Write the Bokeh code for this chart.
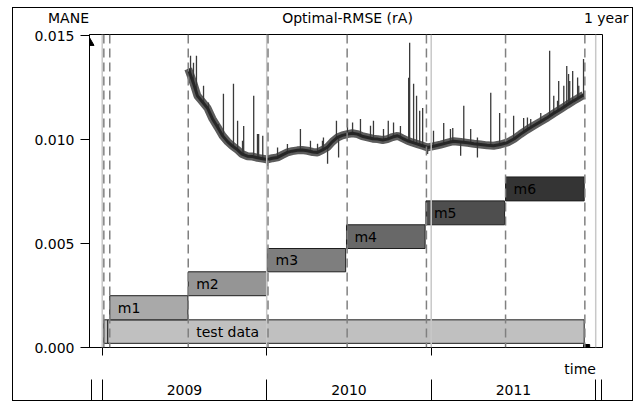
import numpy as np
from bokeh.plotting import figure
from bokeh.layouts import column
from bokeh.models import (Range1d, FixedTicker, LinearAxis, Span, NumeralTickFormatter)
from bokeh.core.properties import value
from bokeh.embed import file_html
from bokeh.resources import INLINE

FONT = "DejaVu Sans"
FS = "14px"

# ---------------- data ----------------
models = ["m1", "m2", "m3", "m4", "m5", "m6"]
model_start = [2009.046, 2009.523, 2010.005, 2010.485, 2010.968, 2011.452]
model_end = [2009.521, 2010.000, 2010.480, 2010.963, 2011.446, 2011.930]
model_bottom = [0.00133, 0.00249, 0.00364, 0.00476, 0.00590, 0.00705]
model_top = [0.00249, 0.00364, 0.00476, 0.00590, 0.00705, 0.00820]
model_colors = ["#a9a9a9", "#959595", "#7e7e7e", "#686868", "#4e4e4e", "#343434"]

test_label = "test data"
test_start = [2009.010, 2009.034]
test_end = [2009.034, 2011.930]
test_bottom = [0.0002, 0.0002]
test_top = [0.00133, 0.00133]

window_bounds = [2009.010, 2009.046, 2009.523, 2010.008, 2010.489, 2010.971,
                 2011.452, 2011.934]
year_bounds = [2009.0, 2010.0, 2011.0, 2012.0]
year_centers = [2009.5, 2010.5, 2011.5]
year_labels = ["2009", "2010", "2011"]
band_edges = [2008.933, 2009.0, 2010.0, 2011.0, 2012.0, 2012.038]
y_ticks = [0.0, 0.005, 0.010, 0.015]
header_texts = ["MANE", "Optimal-RMSE (rA)", "1 year"]

rmse_t = [2009.523, 2009.537, 2009.555, 2009.579, 2009.600, 2009.641, 2009.670,
          2009.701, 2009.730, 2009.762, 2009.790, 2009.823, 2009.850, 2009.883,
          2009.915, 2009.944, 2009.975, 2010.005, 2010.035, 2010.066, 2010.095,
          2010.126, 2010.155, 2010.187, 2010.215, 2010.248, 2010.280, 2010.309,
          2010.340, 2010.370, 2010.400, 2010.430, 2010.460, 2010.491, 2010.520,
          2010.552, 2010.580, 2010.613, 2010.645, 2010.674, 2010.705, 2010.734,
          2010.765, 2010.795, 2010.825, 2010.856, 2010.885, 2010.917, 2010.948,
          2010.978, 2011.015, 2011.057, 2011.095, 2011.136, 2011.180, 2011.221,
          2011.260, 2011.300, 2011.340, 2011.379, 2011.420, 2011.464, 2011.505,
          2011.543, 2011.580, 2011.622, 2011.665, 2011.707, 2011.745, 2011.786,
          2011.825, 2011.865, 2011.895, 2011.926]
rmse_v = [0.01340, 0.01310, 0.01270, 0.01210, 0.01190, 0.01150, 0.01100,
          0.01060, 0.01020, 0.00990, 0.00970, 0.00950, 0.00930, 0.00920,
          0.00918, 0.00912, 0.00908, 0.00904, 0.00910, 0.00914, 0.00926,
          0.00938, 0.00944, 0.00948, 0.00950, 0.00946, 0.00940, 0.00938,
          0.00950, 0.00964, 0.00990, 0.01010, 0.01020, 0.01026, 0.01030,
          0.01026, 0.01016, 0.01010, 0.01004, 0.01002, 0.00998, 0.01002,
          0.01012, 0.01018, 0.01006, 0.00994, 0.00986, 0.00978, 0.00970,
          0.00962, 0.00968, 0.00976, 0.00984, 0.00992, 0.00988, 0.00984,
          0.00980, 0.00976, 0.00972, 0.00970, 0.00976, 0.00986, 0.01004,
          0.01026, 0.01046, 0.01066, 0.01086, 0.01106, 0.01126, 0.01146,
          0.01166, 0.01186, 0.01200, 0.01214]

# upward spikes (time, peak value)
spike_t = [2009.537, 2009.555, 2009.573, 2009.616, 2009.646, 2009.707, 2009.737,
           2009.798, 2009.823, 2009.853, 2009.860, 2009.921, 2009.944, 2009.951,
           2009.976, 2010.066, 2010.126, 2010.205, 2010.266, 2010.309, 2010.339,
           2010.345, 2010.424, 2010.491, 2010.522, 2010.570, 2010.631, 2010.649,
           2010.710, 2010.739, 2010.771, 2010.813, 2010.863, 2010.869, 2010.893,
           2010.911, 2010.930, 2010.948, 2011.014, 2011.076, 2011.117, 2011.131,
           2011.198, 2011.240, 2011.281, 2011.362, 2011.416, 2011.501, 2011.562,
           2011.585, 2011.605, 2011.666, 2011.720, 2011.745, 2011.768, 2011.775,
           2011.806, 2011.824, 2011.835, 2011.842, 2011.860, 2011.878, 2011.890,
           2011.897, 2011.926]
spike_v = [0.01403, 0.01369, 0.01403, 0.01258, 0.01178, 0.01075, 0.01220,
           0.01268, 0.01090, 0.00994, 0.01065, 0.01210, 0.01027, 0.01027,
           0.01018, 0.00962, 0.00978, 0.01051, 0.00994, 0.00980, 0.00994,
           0.01010, 0.01090, 0.01099, 0.01082, 0.01099, 0.01066, 0.01090,
           0.01051, 0.01090, 0.01082, 0.01065, 0.01297, 0.01465, 0.01268,
           0.01210, 0.01138, 0.01152, 0.01042, 0.01080, 0.01051, 0.01056,
           0.01162, 0.01051, 0.01010, 0.01225, 0.01128, 0.01114, 0.01104,
           0.01106, 0.01099, 0.01128, 0.01427, 0.01210, 0.01186, 0.01282,
           0.01258, 0.01354, 0.01315, 0.01282, 0.01330, 0.01186, 0.01298,
           0.01258, 0.01387]

# downward spikes (time, low value)
dip_t = [2010.005, 2010.370, 2010.437, 2010.978, 2011.179, 2011.281]
dip_v = [0.00873, 0.00883, 0.00914, 0.00930, 0.00922, 0.00914]

W = 621

# ---------------- header strip ----------------
h = figure(width=W, height=19, output_backend="svg", toolbar_location=None,
           x_range=Range1d(0, W), y_range=Range1d(19, 0),
           x_axis_location=None, y_axis_location=None,
           min_border_left=0, min_border_right=0, min_border_top=0,
           min_border_bottom=0)
h.frame_align = False
h.grid.grid_line_color = None
h.outline_line_color = None
h.background_fill_alpha = 0
h.border_fill_alpha = 0
h.text(x=[56, 335, 616], y=[10, 10, 10], text=header_texts,
       text_align=["center", "center", "right"], text_baseline="middle",
       text_font=value(FONT), text_font_size=FS, text_color="black")

# ---------------- main plot ----------------
p = figure(width=W, height=375, output_backend="svg", toolbar_location=None,
           x_range=Range1d(2008.9228, 2012.0413), y_range=Range1d(0.0, 0.01505),
           x_axis_location=None,
           min_border_left=77, min_border_right=31, min_border_top=8,
           min_border_bottom=54)
p.frame_align = False
p.grid.grid_line_color = None
p.outline_line_color = "black"
p.outline_line_width = 1
p.background_fill_color = "white"
p.border_fill_alpha = 0

ya = p.yaxis[0]
ya.ticker = FixedTicker(ticks=y_ticks)
ya.formatter = NumeralTickFormatter(format="0.000")
ya.major_tick_out = 9
ya.major_tick_in = 0
ya.minor_tick_line_color = None
ya.axis_line_color = "black"
ya.major_tick_line_color = "black"
ya.major_label_standoff = 6
ya.major_label_text_font = FONT
ya.major_label_text_font_size = FS
ya.major_label_text_color = "black"

# main time axis: ticks at year starts, "time" label
xa = LinearAxis(ticker=FixedTicker(ticks=[2011.905], minor_ticks=year_bounds[:3]),
                major_tick_out=0, major_tick_in=0, major_tick_line_color=None,
                minor_tick_out=8, minor_tick_in=0, minor_tick_line_color="black",
                axis_line_color="black",
                major_label_overrides={2011.905: "time"},
                major_label_standoff=5,
                major_label_text_font=FONT, major_label_text_font_size=FS,
                major_label_text_color="black")
p.add_layout(xa, "below")

# year band axis
yb = LinearAxis(ticker=FixedTicker(ticks=year_centers, minor_ticks=band_edges),
                major_tick_out=0, major_tick_in=0, major_tick_line_color=None,
                minor_tick_out=22, minor_tick_in=0, minor_tick_line_color="black",
                minor_tick_line_width=1,
                axis_line_color=None,
                major_label_overrides={c: l for c, l in zip(year_centers, year_labels)},
                major_label_standoff=-17,
                major_label_text_font=FONT, major_label_text_font_size=FS,
                major_label_text_color="black")
p.add_layout(yb, "below")

# bars
p.quad(left=test_start, right=test_end, bottom=test_bottom, top=test_top,
       fill_color="#c0c0c0", line_color="#1e1e1e", line_width=1)
p.quad(left=model_start, right=model_end, bottom=model_bottom, top=model_top,
       fill_color=model_colors, line_color="#1e1e1e", line_width=1)

mid = [(b + t) / 2 for b, t in zip(model_bottom, model_top)]
p.text(x=model_start, y=mid, text=models, x_offset=8, text_baseline="middle",
       text_font=value(FONT), text_font_size=FS, text_color="black")
p.text(x=[model_start[1]], y=[(test_bottom[1] + test_top[1]) / 2], text=[test_label],
       x_offset=8, text_baseline="middle", text_font=value(FONT),
       text_font_size=FS, text_color="black")

# RMSE curve: noisy band with spikes
base = np.interp(spike_t, rmse_t, rmse_v)
dip_base = np.interp(dip_t, rmse_t, rmse_v)
p.line(rmse_t, rmse_v, line_color="#5c5c5c", line_width=8)
p.segment(x0=spike_t, y0=base, x1=spike_t, y1=spike_v, line_color="#3a3a3a",
          line_width=1.3)
p.segment(x0=dip_t, y0=dip_base, x1=dip_t, y1=dip_v, line_color="#3a3a3a",
          line_width=1.3)
p.line(rmse_t, rmse_v, line_color="#262626", line_width=3)

# vertical guides
for yr in year_bounds:
    p.add_layout(Span(location=yr, dimension="height", line_color="#c8c8c8",
                      line_width=1.5))
for wb in window_bounds:
    p.add_layout(Span(location=wb, dimension="height", line_color="#808080",
                      line_width=1.5, line_dash="9 5"))

# axis arrow heads
p.scatter(x=[2008.9228], y=[0.01465], marker="triangle", size=9, color="black")
p.scatter(x=[2011.945], y=[0.0], marker="square", size=6, color="black")

layout = column(h, p, spacing=0,
                styles={"margin-left": "12px", "margin-top": "7px",
                        "box-shadow": "inset 0 0 0 1px black"})

open("out.html", "w").write(file_html(layout, INLINE))
